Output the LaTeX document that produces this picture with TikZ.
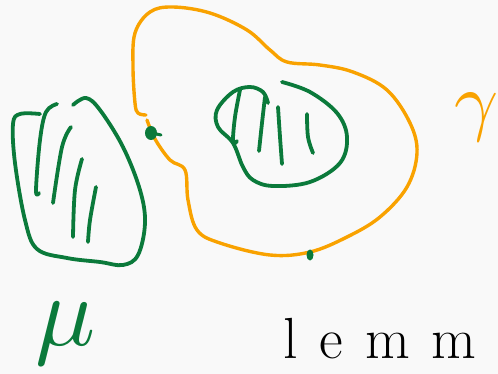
\documentclass[tikz,border=0pt]{standalone}
\usepackage{fontspec}
\definecolor{ink}{HTML}{0B7A3B}
\definecolor{amber}{HTML}{F9A200}
\definecolor{bg}{HTML}{F9F9F9}
\begin{document}
\begin{tikzpicture}[x=1pt,y=-1pt,
  pen/.style={line width=3.8pt,line cap=round,line join=round},
  greenink/.style={pen,draw=ink},
  orangeink/.style={pen,draw=amber,line width=3.4pt},
  sm/.style={smooth,tension=0.6}]
\fill[bg] (0,0) rectangle (498,374);
\useasboundingbox (0,0) rectangle (498,374);

% left hatched region
\draw[greenink] plot[sm] coordinates {(40,114)(20,114)(13,124)(15,163)(25,220)(37,249)(67,258)(100,262)(123,265)(138,255)(145,223)(140,190)(123,147)(100,110)(86,98)(73,105)};
\draw[greenink] plot[sm] coordinates {(57,104)(46,112)(40,140)(36,190)(39,193)};
\draw[greenink] plot[sm] coordinates {(71,127)(62,147)(53,203)};
\draw[greenink] plot[sm] coordinates {(82,159)(75,190)(73,237)};
\draw[greenink] plot[sm] coordinates {(96,187)(90,220)(88,242)};

% orange curve gamma
\draw[orangeink] plot[sm] coordinates {(146,115)(138,113)(135,103)(133,67)(135,33)(150,12)(173,7)(210,13)(247,30)(270,50)(287,62)(320,65)(353,72)(387,90)(410,123)(417,153)(407,187)(380,217)(347,237)(310,252)(270,255)(220,243)(197,230)(188,200)(185,170)(170,160)(155,139)(147,120)};

% middle hatched region
\draw[greenink] plot[sm] coordinates {(282,82)(310,92)(337,113)(347,137)(340,163)(310,182)(273,186)(253,180)(243,167)(233,143)(218,127)(217,110)(233,92)(250,87)(263,92)(268,103)};
\draw[greenink] plot[sm] coordinates {(240,90)(235,117)(233,142)(237,141)};
\draw[greenink] plot[sm] coordinates {(265,97)(262,123)(259,151)};
\draw[greenink] plot[sm] coordinates {(278,107)(280,137)(282,164)};
\draw[greenink] plot[sm] coordinates {(307,114)(308,137)(313,153)};

% marked points
\fill[ink] (151,133) ellipse [x radius=6pt, y radius=7pt];
\draw[greenink,line width=3pt] (152,133) -- (161,135);
\fill[ink] (310,255) ellipse [x radius=3.5pt, y radius=5.5pt];

% labels
\node[text=ink,anchor=base,inner sep=0pt,scale=10] (mu) at (66,345) {$\mu$};
\node[text=amber,anchor=base,inner sep=0pt,scale=7.7] (gam) at (477,127) {$\gamma$};
\node[text=black,anchor=base west,inner sep=0pt] (lem) at (283,358) {\fontsize{58}{58}\selectfont l\kern22pt e\kern22pt m\kern22pt m};
\end{tikzpicture}
\end{document}
